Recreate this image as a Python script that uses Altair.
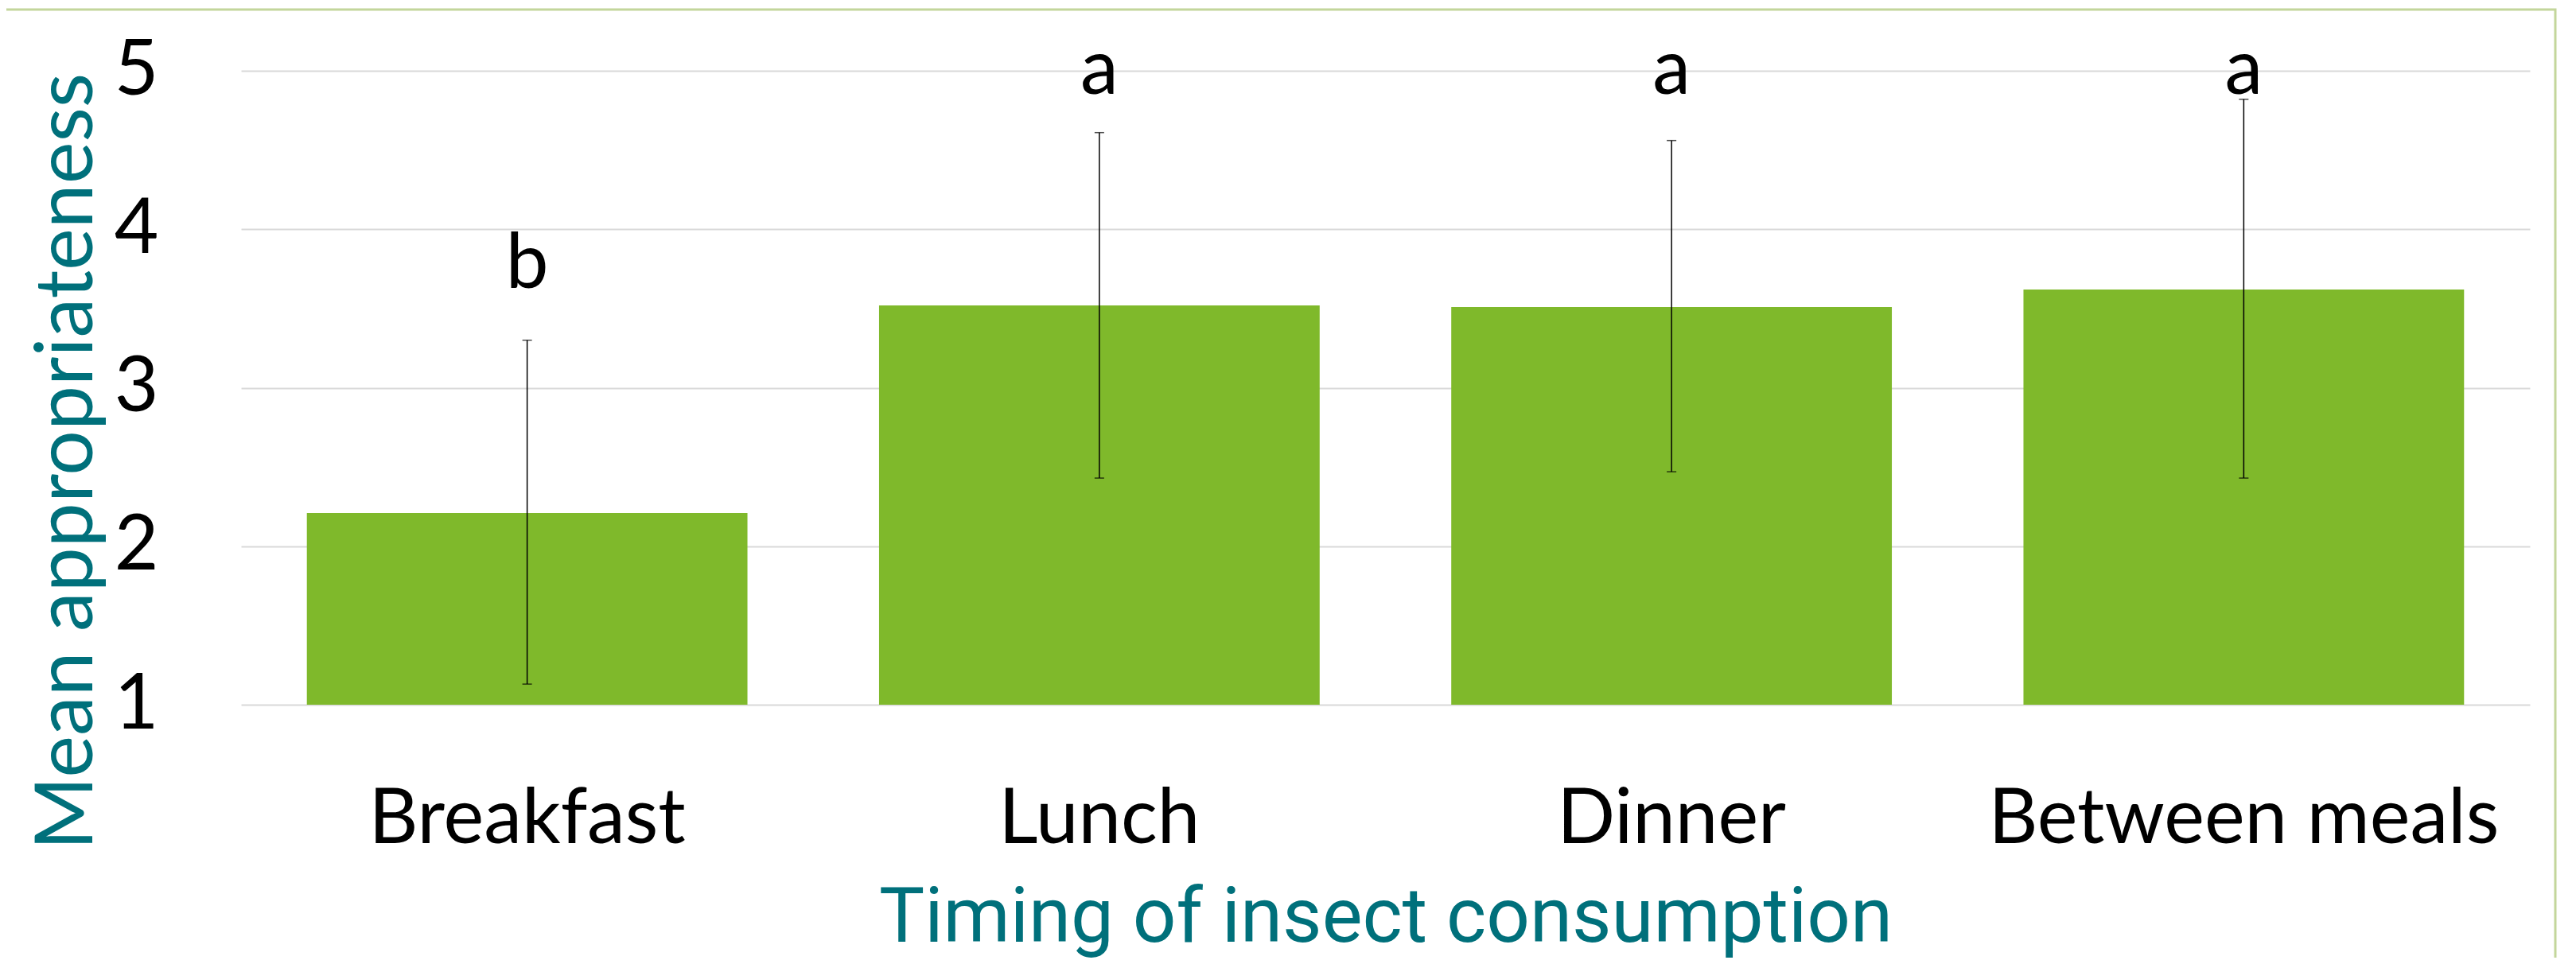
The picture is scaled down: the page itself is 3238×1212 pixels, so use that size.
import altair as alt
import pandas as pd

categories = ["Breakfast", "Lunch", "Dinner", "Between meals"]
means = [2.21, 3.52, 3.51, 3.62]
err_low = [1.13, 2.43, 2.47, 2.43]
err_high = [3.30, 4.61, 4.56, 4.82]
letters = ["b", "a", "a", "a"]
letter_y = [3.63, 4.855, 4.855, 4.855]

df = pd.DataFrame({
    "cat": categories, "mean": means, "lo": err_low, "hi": err_high,
    "letter": letters, "ly": letter_y,
})

FONT = "Lato"
GREEN = "#7fb92b"
TEAL = "#00707b"

x_enc = alt.X(
    "cat:N", sort=categories,
    scale=alt.Scale(paddingInner=0.23, paddingOuter=0.115),
    axis=alt.Axis(
        title="Timing of insect consumption", labelAngle=0, labelFontSize=96,
        labelFont=FONT, labelColor="black", labelPadding=97, labelBaseline="top",
        labelOverlap=False, labelLimit=2000, ticks=False, domain=False, grid=False,
        titleFont="Roboto", titleFontSize=96,
        titleColor=TEAL, titleFontWeight="normal", titleY=297,
        titleBaseline="alphabetic",
    ),
)
y_scale = alt.Scale(domain=[1, 5], nice=False, zero=False)

bars = alt.Chart(df).mark_bar(color=GREEN).encode(
    x=x_enc,
    y=alt.Y(
        "mean:Q", scale=y_scale,
        axis=alt.Axis(
            title="Mean appropriateness", values=[1, 2, 3, 4, 5], format="d",
            labelFontSize=96, labelFont=FONT, labelColor="black",
            labelPadding=104, ticks=False, domain=False,
            gridColor="#d9d9d9", gridWidth=2,
            titleFont=FONT, titleFontSize=100, titleColor=TEAL,
            titleFontWeight="normal", titleAngle=270, titleX=-188, titleY=491,
            titleAlign="center", titleBaseline="alphabetic", titleLimit=2000,
        ),
    ),
    y2=alt.datum(1),
)

rules = alt.Chart(df).mark_rule(color="black", strokeWidth=1.5).encode(
    x=alt.X("cat:N", sort=categories), y="lo:Q", y2="hi:Q"
)
cap_lo = alt.Chart(df).mark_tick(color="black", thickness=1.5, size=12).encode(
    x=alt.X("cat:N", sort=categories), y="lo:Q"
)
cap_hi = alt.Chart(df).mark_tick(color="black", thickness=1.5, size=12).encode(
    x=alt.X("cat:N", sort=categories), y="hi:Q"
)
texts = alt.Chart(df).mark_text(
    font=FONT, fontSize=96, color="black", baseline="alphabetic", align="center"
).encode(x=alt.X("cat:N", sort=categories), y="ly:Q", text="letter:N")

frame = alt.Chart(pd.DataFrame({"k": [0]})).mark_rect(
    fill=None, stroke="#c3d69b", strokeWidth=3
).encode(
    x=alt.value(-400), x2=alt.value(2909), y=alt.value(-77), y2=alt.value(1400)
)

chart = alt.layer(bars, rules, cap_lo, cap_hi, texts, frame).properties(
    width=2877, height=797,
    autosize=alt.AutoSizeParams(type="none"),
    padding={"left": 295, "top": 81, "right": 45, "bottom": 318},
).configure_view(stroke=None).configure_axis(gridColor="#d9d9d9")

chart.save("out.html", embed_options={"renderer": "svg", "actions": False})
